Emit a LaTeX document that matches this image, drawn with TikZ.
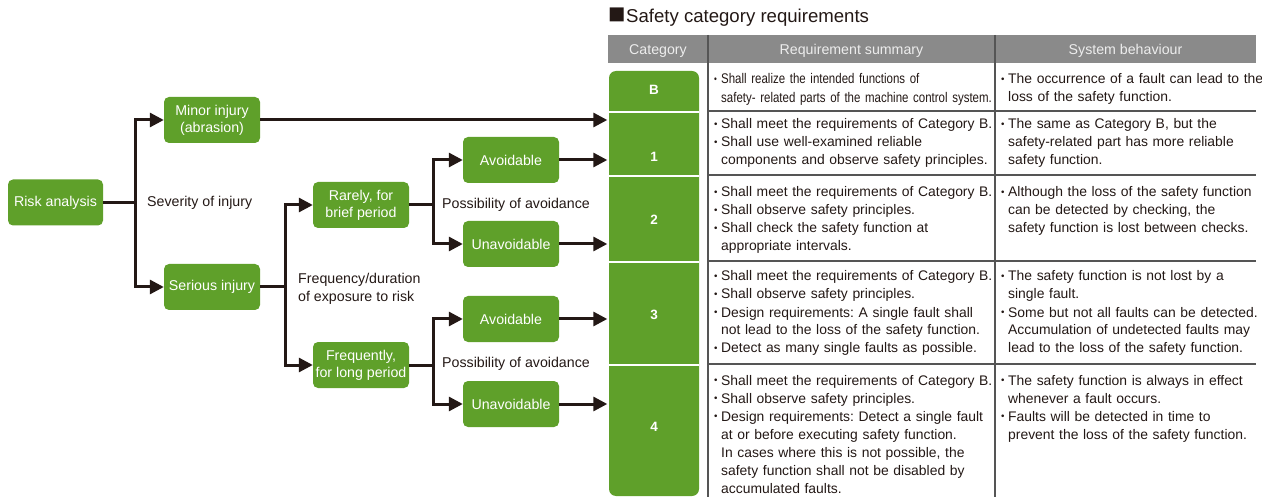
\documentclass[tikz,border=0pt]{standalone}
\usepackage{fontspec}
\setmainfont{Liberation Sans}
\newfontfamily\condfont[FakeStretch=0.82]{Liberation Sans}
\usetikzlibrary{arrows.meta}
\definecolor{grn}{HTML}{5FA02A}
\definecolor{ink}{HTML}{231815}
\definecolor{hdr}{HTML}{8A8A8A}
\definecolor{hdrtxt}{HTML}{EDEDED}
\definecolor{rulec}{HTML}{555555}
\newcommand\bu{\makebox[7pt][l]{\raisebox{0.11em}{\scalebox{0.7}{•}}}}
\newcommand\ind{\hspace*{7pt}}
\frenchspacing
\begin{document}
\begin{tikzpicture}[x=1pt,y=-1pt,
  gbox/.style={fill=grn, rounded corners=5pt, text=white, align=center,
    font=\fontsize{14.2}{17}\selectfont, minimum width=96pt, minimum height=46pt, inner sep=0pt},
  conn/.style={draw=ink, line width=3pt},
  arr/.style={conn, -{Triangle[length=14pt,width=14pt]}},
  lbl/.style={text=ink, font=\fontsize{14.2}{18}\selectfont, align=left, anchor=west, inner sep=0pt},
  hdrlbl/.style={text=hdrtxt, font=\fontsize{14.2}{16}\selectfont, inner sep=0pt},
  catlbl/.style={text=white, font=\bfseries\fontsize{13.5}{16}\selectfont, minimum width=90pt, inner sep=0pt},
  cell/.style={text=ink, font=\fontsize{13.9}{18}\selectfont, text width=330pt, align=left, anchor=base west, inner sep=0pt},
  tline/.style={draw=rulec, line width=1.2pt},
  sep/.style={draw=white, line width=1.3pt}]
\useasboundingbox (0,0) rectangle (1262,497);

% title
\node[anchor=west, inner sep=0pt, text=ink, font=\fontsize{18.6}{20}\selectfont] (title) at (608,17)
  {\raisebox{-0.6pt}{\scalebox{1.55}{■}}\hspace{0.5pt}Safety category requirements};

% header
\fill[hdr] (608,35) rectangle (1256,63);
\node[hdrlbl] (hcat) at (658,51) {Category};
\node[hdrlbl] (hsum) at (851.5,51) {Requirement summary};
\node[hdrlbl] (hsys) at (1125.5,51) {System behaviour};

% table rules
\draw[tline] (708,35) -- (708,497);
\draw[tline] (995,35) -- (995,497);
\foreach \yy in {111,175,261,364} \draw[tline] (708,\yy) -- (1256,\yy);

% category column
\fill[grn, rounded corners=7pt] (609,71) rectangle (699,496);
\foreach \yy in {112,176,262,365} \draw[sep] (609,\yy) -- (699,\yy);
\node[catlbl] (catB) at (654,90) {B};
\node[catlbl] (cat1) at (654,157) {1};
\node[catlbl] (cat2) at (654,220) {2};
\node[catlbl] (cat3) at (654,315) {3};
\node[catlbl] (cat4) at (654,427) {4};

% requirement summary
\node[cell, font=\condfont\fontsize{14}{19}\selectfont] (sB) at (714,84)
  {\bu Shall realize the intended functions of\\\ind safety- related parts of the machine control system.};
\node[cell] (s1) at (714,129)
  {\bu Shall meet the requirements of Category B.\\\bu Shall use well-examined reliable\\\ind components and observe safety principles.};
\node[cell] (s2) at (714,197)
  {\bu Shall meet the requirements of Category B.\\\bu Shall observe safety principles.\\\bu Shall check the safety function at\\\ind appropriate intervals.};
\node[cell] (s3) at (714,281)
  {\bu Shall meet the requirements of Category B.\\\bu Shall observe safety principles.\\\bu Design requirements: A single fault shall\\\ind not lead to the loss of the safety function.\\\bu Detect as many single faults as possible.};
\node[cell] (s4) at (714,385)
  {\bu Shall meet the requirements of Category B.\\\bu Shall observe safety principles.\\\bu Design requirements: Detect a single fault\\\ind at or before executing safety function.\\\ind In cases where this is not possible, the\\\ind safety function shall not be disabled by\\\ind accumulated faults.};

% system behaviour
\node[cell] (bB) at (1001,84)
  {\bu The occurrence of a fault can lead to the\\\ind loss of the safety function.};
\node[cell] (b1) at (1001,129)
  {\bu The same as Category B, but the\\\ind safety-related part has more reliable\\\ind safety function.};
\node[cell] (b2) at (1001,197)
  {\bu Although the loss of the safety function\\\ind can be detected by checking, the\\\ind safety function is lost between checks.};
\node[cell] (b3) at (1001,281)
  {\bu The safety function is not lost by a\\\ind single fault.\\\bu Some but not all faults can be detected.\\\ind Accumulation of undetected faults may\\\ind lead to the loss of the safety function.};
\node[cell] (b4) at (1001,385)
  {\bu The safety function is always in effect\\\ind whenever a fault occurs.\\\bu Faults will be detected in time to\\\ind prevent the loss of the safety function.};

% tree nodes
\node[gbox, minimum width=95pt] (risk) at (55.5,202.5) {Risk analysis};
\node[gbox] (minor) at (212,120) {Minor injury\\(abrasion)};
\node[gbox] (serious) at (212,287) {Serious injury};
\node[gbox] (rare) at (361,205) {Rarely, for\\brief period};
\node[gbox] (freq) at (361,365) {Frequently,\\for long period};
\node[gbox] (av1) at (511,160) {Avoidable};
\node[gbox] (un1) at (511,244) {Unavoidable};
\node[gbox] (av2) at (511,319) {Avoidable};
\node[gbox] (un2) at (511,404) {Unavoidable};

\node[lbl] (sev) at (147,203) {Severity of injury};
\node[lbl] (fdur) at (298,289) {Frequency/duration\\of exposure to risk};
\node[lbl] (pa1) at (442,205) {Possibility of avoidance};
\node[lbl] (pa2) at (442,364) {Possibility of avoidance};

% connectors
\draw[arr] (risk.east) -- ++(32,0) |- (minor.west);
\draw[arr] (risk.east) -- ++(32,0) |- (serious.west);
\draw[arr, shorten >=1.5pt] (minor.east) -- (minor.east -| cat1.west);
\draw[arr] (serious.east) -- ++(25,0) |- (rare.west);
\draw[arr] (serious.east) -- ++(25,0) |- (freq.west);
\draw[arr] (rare.east) -- ++(24,0) |- (av1.west);
\draw[arr] (rare.east) -- ++(24,0) |- (un1.west);
\draw[arr] (freq.east) -- ++(24,0) |- (av2.west);
\draw[arr] (freq.east) -- ++(24,0) |- (un2.west);
\draw[arr, shorten >=1.5pt] (av1.east) -- (av1.east -| cat1.west);
\draw[arr, shorten >=1.5pt] (un1.east) -- (un1.east -| cat2.west);
\draw[arr, shorten >=1.5pt] (av2.east) -- (av2.east -| cat3.west);
\draw[arr, shorten >=1.5pt] (un2.east) -- (un2.east -| cat4.west);
\end{tikzpicture}
\end{document}
